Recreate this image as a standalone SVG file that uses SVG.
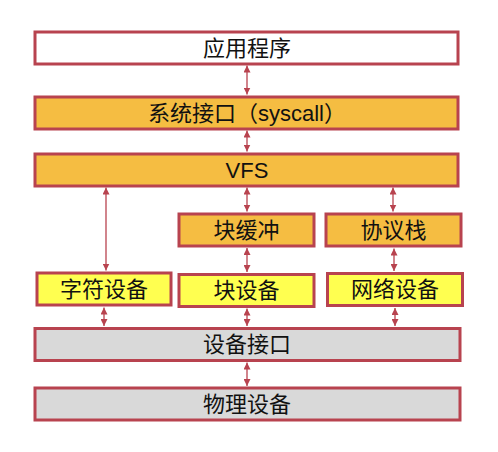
<svg xmlns="http://www.w3.org/2000/svg" width="498" height="452" viewBox="0 0 498 452">
  <style>
    .box { stroke: #b8434f; stroke-width: 3; }
    .white { fill: #ffffff; }
    .orange { fill: #f5bd42; }
    .yellow { fill: #ffff50; }
    .gray { fill: #d9d9d9; }
    .label { font-family: "Liberation Sans", "Noto Sans CJK SC", sans-serif; font-size: 22px; fill: #111111; text-anchor: middle; dominant-baseline: central; }
    .link { stroke: #b8434f; stroke-width: 1.3; fill: none; marker-start: url(#head); marker-end: url(#head); }
  </style>
  <defs>
    <marker id="head" viewBox="0 0 10 10" refX="10" refY="5" markerWidth="7" markerHeight="7" markerUnits="userSpaceOnUse" orient="auto-start-reverse">
      <path d="M0,0 L10,5 L0,10 Z" fill="#b8434f"/>
    </marker>
  </defs>

  <rect width="498" height="452" fill="#ffffff"/>

  <!-- layered connectors -->
  <g id="connectors">
    <line class="link" x1="247" y1="65.5" x2="247" y2="94.5"/>
    <line class="link" x1="247" y1="130.5" x2="247" y2="151.5"/>
    <line class="link" x1="106" y1="187.5" x2="106" y2="270.5"/>
    <line class="link" x1="247" y1="187.5" x2="247" y2="211.5"/>
    <line class="link" x1="393" y1="187.5" x2="393" y2="211.5"/>
    <line class="link" x1="247" y1="248" x2="247" y2="272"/>
    <line class="link" x1="394" y1="248.5" x2="394" y2="271"/>
    <line class="link" x1="104" y1="307.5" x2="104" y2="326"/>
    <line class="link" x1="247" y1="308.5" x2="247" y2="326"/>
    <line class="link" x1="395" y1="308" x2="395" y2="326"/>
    <line class="link" x1="247" y1="362.5" x2="247" y2="386"/>
  </g>

  <g id="app">
    <rect class="box white" x="35" y="32" width="423" height="32"/>
    <text class="label" x="247" y="48">应用程序</text>
  </g>
  <g id="syscall">
    <rect class="box orange" x="35" y="97" width="423" height="32"/>
    <text class="label" x="247" y="113">系统接口（syscall）</text>
  </g>
  <g id="vfs">
    <rect class="box orange" x="35" y="154" width="423" height="32"/>
    <text class="label" x="247" y="170">VFS</text>
  </g>
  <g id="block-cache">
    <rect class="box orange" x="179" y="214" width="135" height="32"/>
    <text class="label" x="246.5" y="230">块缓冲</text>
  </g>
  <g id="protocol-stack">
    <rect class="box orange" x="326" y="214" width="135" height="32"/>
    <text class="label" x="393.5" y="230">协议栈</text>
  </g>
  <g id="char-device">
    <rect class="box yellow" x="37" y="273" width="134" height="32"/>
    <text class="label" x="104" y="289">字符设备</text>
  </g>
  <g id="block-device">
    <rect class="box yellow" x="179" y="274.5" width="135" height="32"/>
    <text class="label" x="246.5" y="290.5">块设备</text>
  </g>
  <g id="net-device">
    <rect class="box yellow" x="327.5" y="273.5" width="135" height="32"/>
    <text class="label" x="395" y="289.5">网络设备</text>
  </g>
  <g id="device-interface">
    <rect class="box gray" x="35" y="328.5" width="425" height="32"/>
    <text class="label" x="247" y="344.5">设备接口</text>
  </g>
  <g id="physical-device">
    <rect class="box gray" x="35" y="388" width="425" height="32"/>
    <text class="label" x="247" y="404">物理设备</text>
  </g>
</svg>
